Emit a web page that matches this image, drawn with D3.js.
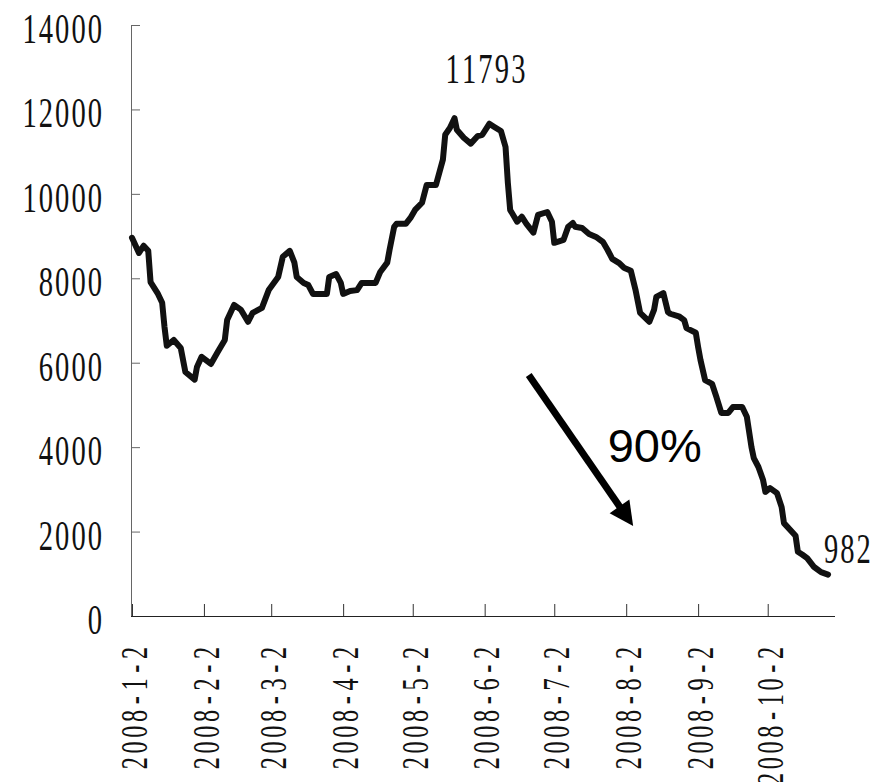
<!DOCTYPE html>
<html><head><meta charset="utf-8">
<script src="https://cdn.jsdelivr.net/npm/d3@7/dist/d3.min.js"></script>
<style>html,body{margin:0;padding:0;background:#fff;}svg{display:block;}</style>
</head><body>
<svg id="c" width="878" height="782"></svg>
<script>
// ---- data ----
const dates = [
"2008-01-02","2008-01-05","2008-01-07","2008-01-09","2008-01-10","2008-01-13","2008-01-15","2008-01-16","2008-01-17","2008-01-20",
"2008-01-23","2008-01-25","2008-01-29","2008-01-30","2008-02-01","2008-02-05","2008-02-08","2008-02-11","2008-02-12","2008-02-15",
"2008-02-18","2008-02-21","2008-02-23","2008-02-27","2008-03-01","2008-03-05","2008-03-07","2008-03-10","2008-03-12","2008-03-13",
"2008-03-16","2008-03-18","2008-03-20","2008-03-26","2008-03-27","2008-03-30","2008-04-01","2008-04-02","2008-04-05","2008-04-08",
"2008-04-10","2008-04-16","2008-04-18","2008-04-21","2008-04-22","2008-04-24","2008-04-25","2008-04-29","2008-05-01","2008-05-03",
"2008-05-06","2008-05-08","2008-05-12","2008-05-15","2008-05-16","2008-05-18","2008-05-20","2008-05-21","2008-05-24","2008-05-27",
"2008-05-30","2008-06-01","2008-06-04","2008-06-06","2008-06-09","2008-06-11","2008-06-12","2008-06-13","2008-06-16","2008-06-18",
"2008-06-20","2008-06-23","2008-06-25","2008-06-29","2008-07-01","2008-07-02","2008-07-06","2008-07-08","2008-07-10","2008-07-11",
"2008-07-14","2008-07-17","2008-07-20","2008-07-23","2008-07-25","2008-07-27","2008-07-30","2008-08-01","2008-08-04","2008-08-06",
"2008-08-08","2008-08-12","2008-08-14","2008-08-15","2008-08-18","2008-08-20","2008-08-21","2008-08-25","2008-08-27","2008-08-28",
"2008-09-01","2008-09-02","2008-09-03","2008-09-05","2008-09-08","2008-09-10","2008-09-12","2008-09-15","2008-09-17","2008-09-21",
"2008-09-23","2008-09-25","2008-09-26","2008-09-28","2008-09-30","2008-10-01","2008-10-03","2008-10-06","2008-10-08","2008-10-09",
"2008-10-14","2008-10-15","2008-10-17","2008-10-19","2008-10-22","2008-10-25","2008-10-28"
];
const values = [
8960,8600,8770,8650,7910,7650,7420,6850,6400,6540,
6350,5780,5600,5900,6140,5970,6260,6540,7010,7370,
7250,6970,7180,7300,7730,8030,8510,8650,8370,8030,
7890,7840,7630,7630,8030,8100,7890,7630,7700,7720,
7890,7890,8150,8370,8670,9220,9290,9290,9430,9620,
9790,10210,10210,10810,11400,11560,11793,11520,11330,11190,
11370,11400,11660,11590,11490,11110,10260,9620,9340,9460,
9290,9080,9500,9570,9340,8840,8910,9220,9310,9220,
9190,9050,8980,8860,8670,8460,8360,8250,8180,7730,
7180,6970,7250,7560,7650,7200,7160,7090,7010,6820,
6710,6370,6070,5590,5500,5170,4810,4810,4950,4950,
4720,4000,3740,3530,3220,2940,3030,2910,2580,2200,
1900,1520,1450,1370,1160,1040,982
];
const yTicks = [0,2000,4000,6000,8000,10000,12000,14000];
const xTickDates = ["2008-01-02","2008-02-02","2008-03-02","2008-04-02","2008-05-02","2008-06-02","2008-07-02","2008-08-02","2008-09-02","2008-10-02"];
const xTickLabels = ["2008-1-2","2008-2-2","2008-3-2","2008-4-2","2008-5-2","2008-6-2","2008-7-2","2008-8-2","2008-9-2","2008-10-2"];
const xDomain = ["2008-01-02","2008-10-31"];
const peakPoint = {date:"2008-05-20", value:11793, text:"11793"};
const endPoint = {date:"2008-10-28", value:982, text:"982"};
const arrowStart = {date:"2008-06-21", value:5710};
const arrowTip = {date:"2008-08-05", value:2130};
const dropText = {date:"2008-07-25", value:3650, text:"90%"};

// ---- chart ----
const parse = d3.utcParse("%Y-%m-%d");
const svg = d3.select("#c");
const x = d3.scaleUtc().domain(xDomain.map(parse)).range([132, 835]);
const y = d3.scaleLinear().domain([0, 14000]).range([616, 25]);
const serif = "'Liberation Serif','Times New Roman',serif";

// monospaced placement of characters (cell width in px, horizontal glyph squeeze k)
function monoText(sel, str, cell, k, anchor) {
  const n = str.length;
  const start = anchor === "end" ? -n * cell : anchor === "middle" ? -n * cell / 2 : 0;
  const xs = str.split("").map((c, j) => ((start + cell * (j + 0.5)) / k).toFixed(2));
  sel.attr("x", xs.join(" ")).attr("text-anchor", "middle");
}

// y axis
const KY = 0.68;
const gy = svg.append("g").attr("transform", "translate(131,0)")
  .call(d3.axisLeft(y).tickValues(yTicks).tickSize(-9).tickSizeOuter(0).tickFormat(d3.format("d")));
gy.select(".domain").attr("stroke", "#666");
gy.selectAll(".tick line").attr("stroke", "#666");
gy.selectAll(".tick text")
  .attr("font-family", serif).attr("font-size", 42).attr("fill", "#111")
  .attr("dy", null).attr("y", 17.5)
  .each(function(d) {
    const t = d3.select(this);
    monoText(t, String(d), 16.3, KY, "end");
    t.attr("transform", `translate(-28,0) scale(${KY},1)`);
  });

// x axis
const KX = 0.64;
const gx = svg.append("g").attr("transform", "translate(0,616)")
  .call(d3.axisBottom(x).tickValues(xTickDates.map(parse)).tickSize(-12).tickSizeOuter(0)
    .tickFormat((d, i) => xTickLabels[i]));
gx.select(".domain").attr("stroke", "#222").attr("d", "M131,0.5H835");
gx.selectAll(".tick line").attr("stroke", "#333");
gx.selectAll(".tick text")
  .attr("font-family", serif).attr("font-size", 38).attr("fill", "#111")
  .attr("dy", null).attr("y", 13.3)
  .each(function(d, i) {
    const t = d3.select(this);
    monoText(t, xTickLabels[i], 15.75, KX, "end");
    t.attr("transform", `translate(1,29) rotate(-90) scale(${KX},1)`);
  });

// line
const pts = dates.map((d, i) => ({date: parse(d), value: values[i]}));
svg.append("path").datum(pts)
  .attr("fill", "none").attr("stroke", "#111").attr("stroke-width", 6)
  .attr("stroke-linejoin", "round").attr("stroke-linecap", "round")
  .attr("d", d3.line().x(d => x(d.date)).y(d => y(d.value)));

// labels
const pk = svg.append("text").text(peakPoint.text)
  .attr("font-family", serif).attr("font-size", 42).attr("fill", "#111").attr("y", 0);
monoText(pk, peakPoint.text, 16.4, KY, "middle");
pk.attr("transform", `translate(${x(parse(peakPoint.date)) + 31},${y(peakPoint.value) - 35}) scale(${KY},1)`);

const en = svg.append("text").text(endPoint.text)
  .attr("font-family", serif).attr("font-size", 42).attr("fill", "#111").attr("y", 0);
monoText(en, endPoint.text, 16.2, KY, "start");
en.attr("transform", `translate(${x(parse(endPoint.date)) - 5},${y(endPoint.value) - 11.5}) scale(${KY},1)`);

svg.append("text").text(dropText.text)
  .attr("x", x(parse(dropText.date))).attr("y", y(dropText.value))
  .attr("font-family", "'Liberation Sans',Arial,sans-serif").attr("font-size", 47).attr("fill", "#000");

// arrow
const ax0 = x(parse(arrowStart.date)), ay0 = y(arrowStart.value);
const ax1 = x(parse(arrowTip.date)), ay1 = y(arrowTip.value);
const len = Math.hypot(ax1 - ax0, ay1 - ay0);
const ux = (ax1 - ax0) / len, uy = (ay1 - ay0) / len;
const headL = 24, headW = 12;
const bx = ax1 - ux * headL, by = ay1 - uy * headL;
svg.append("line").attr("x1", ax0).attr("y1", ay0).attr("x2", bx + ux * 2).attr("y2", by + uy * 2)
  .attr("stroke", "#000").attr("stroke-width", 7);
svg.append("path")
  .attr("d", `M${ax1},${ay1}L${bx - uy * headW},${by + ux * headW}L${bx + uy * headW},${by - ux * headW}Z`)
  .attr("fill", "#000");
</script>
</body></html>
